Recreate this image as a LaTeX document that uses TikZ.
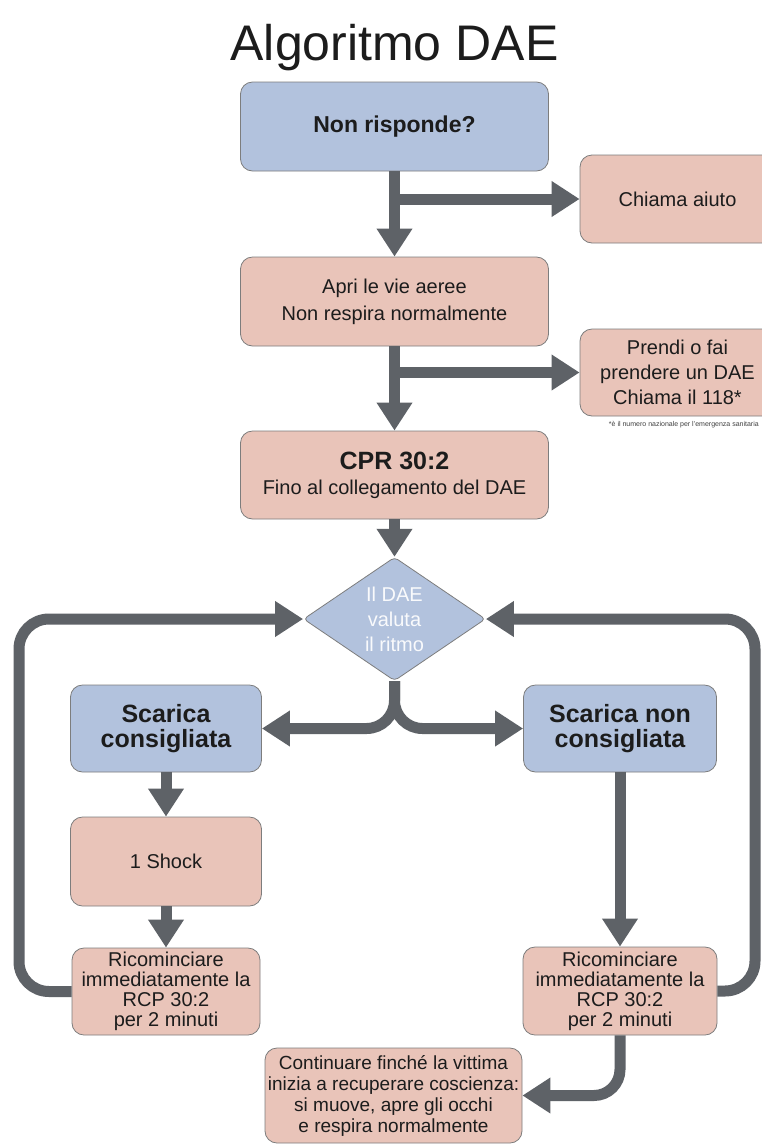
\documentclass[tikz,border=0pt]{standalone}
\usepackage{fontspec}
\setmainfont{Liberation Sans}
\usetikzlibrary{arrows.meta,shapes.geometric}
\definecolor{boxblue}{RGB}{178,194,221}
\definecolor{boxpink}{RGB}{233,196,185}
\definecolor{edgegray}{RGB}{125,125,125}
\definecolor{arrowgray}{RGB}{94,98,103}
\definecolor{textdark}{RGB}{28,28,28}

\begin{document}
\begin{tikzpicture}[x=1pt,y=-1pt]
    \tikzset{box/.style = {shape=rectangle, rounded corners=12pt, draw=edgegray, line width=0.8pt, inner sep=0pt, align=center, text=textdark, font=\fontsize{20}{25}\selectfont}}
    \tikzset{pinkbox/.style = {box, fill=boxpink}}
    \tikzset{bluebox/.style = {box, fill=boxblue}}
    \tikzset{mainbox/.style = {minimum width=308pt, minimum height=89pt}}
    \tikzset{sidebox/.style = {minimum width=195pt, minimum height=88pt}}
    \tikzset{lowbox/.style = {minimum width=191pt, minimum height=88pt}}
    \tikzset{flow/.style = {draw=arrowgray, line width=11pt, -{Triangle[width=34pt,length=28pt]}}}
    \path[use as bounding box, fill=white] (0,0) rectangle (761,1144);
    % title
    \node[anchor=base, text=textdark, font=\fontsize{50}{60}\selectfont] (titolo) at (394.5,60) {Algoritmo DAE};
    % vertices
    \node[bluebox, mainbox, font=\fontsize{23}{28}\selectfont\bfseries] (risponde) at (394.5,126.5) {Non risponde?};
    \node[pinkbox, sidebox] (chiama) at (677.5,199) {Chiama aiuto};
    \node[pinkbox, mainbox, font=\fontsize{20}{27}\selectfont] (apri) at (394.5,301.5) {Apri le vie aeree\\Non respira normalmente};
    \node[pinkbox, sidebox, minimum height=87pt] (prendi) at (677.5,372.5) {Prendi o fai\\prendere un DAE\\Chiama il 118*};
    \node[anchor=east, inner sep=0pt, text=black!75, font=\fontsize{7}{8}\selectfont] (nota) at (759,425) {*è il numero nazionale per l'emergenza sanitaria};
    \node[pinkbox, mainbox, minimum height=88pt] (cpr) at (394.5,475) {{\fontsize{25}{28}\selectfont\bfseries CPR 30:2}\\Fino al collegamento del DAE};
    \node[shape=diamond, rounded corners=4pt, draw=edgegray, line width=0.8pt, fill=boxblue, inner sep=0pt, minimum width=182pt, minimum height=112pt, align=center, text=white!92!boxblue, font=\fontsize{20}{25}\selectfont] (dae) at (394.5,619) {Il DAE\\valuta\\il ritmo};
    \node[bluebox, lowbox, minimum height=87pt, font=\fontsize{25}{25}\selectfont\bfseries] (sca) at (166,728.5) {Scarica\\consigliata};
    \node[bluebox, lowbox, minimum width=193pt, minimum height=87pt, font=\fontsize{25}{25}\selectfont\bfseries] (scanon) at (620,728.5) {Scarica non\\consigliata};
    \node[pinkbox, lowbox, minimum height=89pt] (shock) at (166,861.5) {1 Shock};
    \node[pinkbox, lowbox, minimum width=188pt, minimum height=87pt, font=\fontsize{20}{20}\selectfont] (ricL) at (166,991.5) {Ricominciare\\immediatamente la\\RCP 30:2\\per 2 minuti};
    \node[pinkbox, lowbox, minimum width=194pt, minimum height=88pt, font=\fontsize{20}{20}\selectfont] (ricR) at (620,991) {Ricominciare\\immediatamente la\\RCP 30:2\\per 2 minuti};
    \node[pinkbox, minimum width=257pt, minimum height=95pt, font=\fontsize{19}{21}\selectfont] (fine) at (393.5,1095.5) {Continuare finché la vittima\\inizia a recuperare coscienza:\\si muove, apre gli occhi\\e respira normalmente};
    \coordinate (angoloL) at (19,619);
    \coordinate (angoloR) at (755,619);
    % edges
    \draw[flow] (risponde) -- (apri);
    \draw[flow] (risponde.south |- chiama.west) -- (chiama.west);
    \draw[flow] (apri) -- (cpr);
    \draw[flow] (apri.south |- prendi.west) -- (prendi.west);
    \draw[flow] (cpr) -- (dae);
    \draw[flow, rounded corners=28pt] (dae.south) |- (sca.east);
    \draw[flow, rounded corners=28pt] (dae.south) |- (scanon.west);
    \draw[flow] (sca) -- (shock);
    \draw[flow] (shock) -- (ricL);
    \draw[flow] (scanon) -- (ricR);
    \draw[flow, rounded corners=30pt] (ricL.west) -| (angoloL) -- (dae.west);
    \draw[flow, rounded corners=30pt] (ricR.east) -| (angoloR) -- (dae.east);
    \draw[flow, rounded corners=26pt] (ricR.south) |- (fine.east);
\end{tikzpicture}
\end{document}
